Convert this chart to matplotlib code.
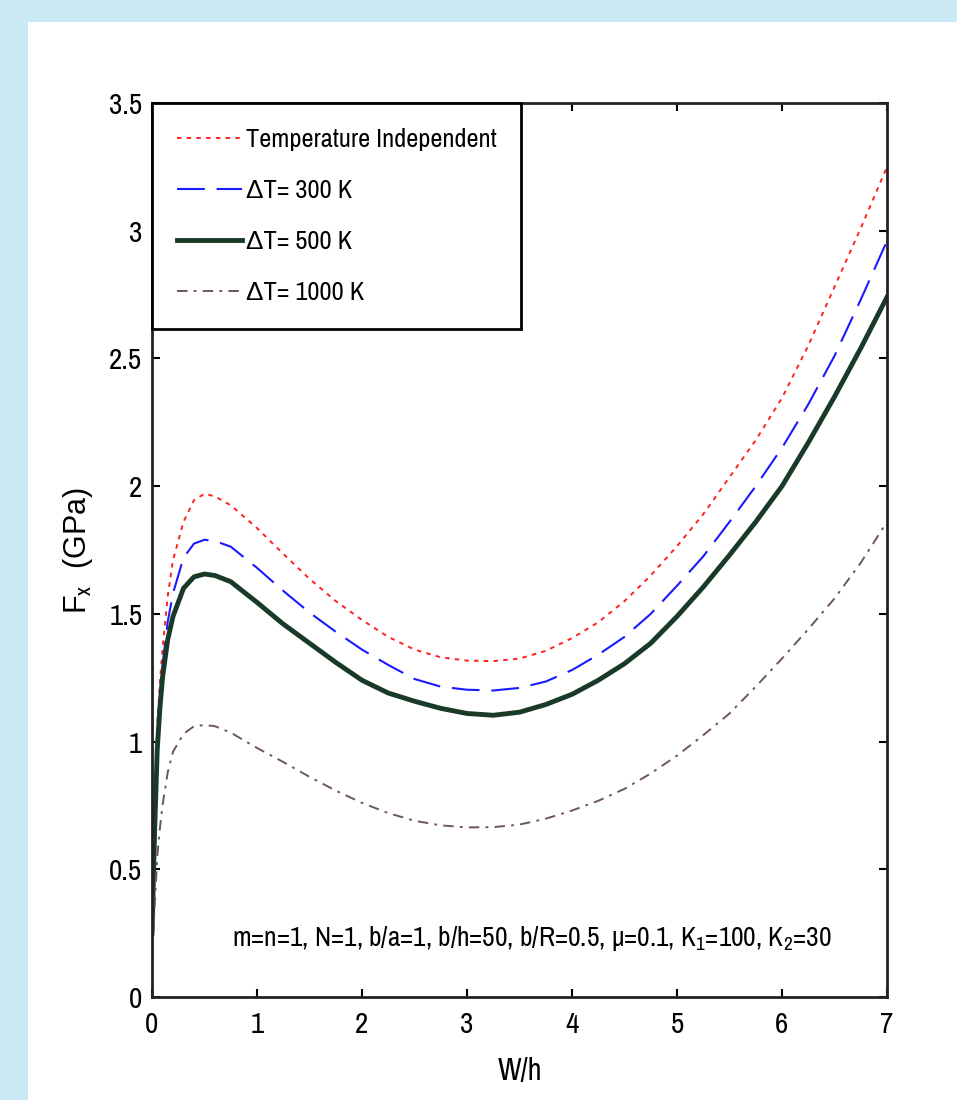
import matplotlib
matplotlib.use("Agg")
import matplotlib.pyplot as plt
from matplotlib.patches import Rectangle

# ---------------- data ----------------
w_over_h = [0, 0.025, 0.05, 0.075, 0.1, 0.15, 0.2, 0.3, 0.4, 0.5, 0.6, 0.75,
            1.0, 1.25, 1.5, 1.75, 2.0, 2.25, 2.5, 2.75, 3.0, 3.25, 3.5, 3.75,
            4.0, 4.25, 4.5, 4.75, 5.0, 5.25, 5.5, 5.75, 6.0, 6.25, 6.5, 6.75, 7.0]
temp_indep = [0.2, 0.7, 1.06, 1.23, 1.36, 1.57, 1.71, 1.86, 1.945, 1.97, 1.96, 1.925,
              1.836, 1.735, 1.637, 1.55, 1.476, 1.41, 1.36, 1.33, 1.317, 1.315, 1.325, 1.355,
              1.405, 1.467, 1.55, 1.65, 1.765, 1.89, 2.035, 2.18, 2.345, 2.55, 2.78, 3.01, 3.25]
dt_300 = [0.2, 0.68, 1.0, 1.17, 1.3, 1.47, 1.58, 1.72, 1.775, 1.79, 1.785, 1.763,
          1.68, 1.59, 1.505, 1.43, 1.36, 1.30, 1.245, 1.215, 1.203, 1.2, 1.21, 1.235,
          1.28, 1.34, 1.41, 1.5, 1.61, 1.725, 1.86, 2.0, 2.15, 2.32, 2.51, 2.73, 2.96]
dt_500 = [0.25, 0.65, 0.97, 1.13, 1.25, 1.40, 1.49, 1.60, 1.645, 1.656, 1.65, 1.626,
          1.545, 1.46, 1.385, 1.31, 1.24, 1.19, 1.158, 1.13, 1.11, 1.103, 1.115, 1.145,
          1.185, 1.24, 1.305, 1.385, 1.49, 1.605, 1.73, 1.86, 2.0, 2.17, 2.35, 2.54, 2.74]
dt_1000 = [0.15, 0.35, 0.55, 0.66, 0.75, 0.88, 0.96, 1.03, 1.06, 1.065, 1.06, 1.035,
           0.975, 0.92, 0.862, 0.808, 0.76, 0.72, 0.69, 0.672, 0.664, 0.665, 0.675, 0.698,
           0.73, 0.768, 0.815, 0.875, 0.945, 1.025, 1.11, 1.215, 1.325, 1.44, 1.56, 1.70, 1.86]
labels = ["Temperature Independent", "\u0394T= 300 K", "\u0394T= 500 K", "\u0394T= 1000 K"]
x_ticks = [0, 1, 2, 3, 4, 5, 6, 7]
y_ticks = [0, 0.5, 1, 1.5, 2, 2.5, 3, 3.5]
y_tick_labels = ["0", "0.5", "1", "1.5", "2", "2.5", "3", "3.5"]
note = "m=n=1, N=1, b/a=1, b/h=50, b/R=0.5, \u03bc=0.1, K$_1$=100, K$_2$=30"

# ---------------- fonts ----------------
NARROW = ["Archivo Narrow", "Liberation Sans", "DejaVu Sans"]
plt.rcParams["font.family"] = NARROW
plt.rcParams["mathtext.fontset"] = "custom"
plt.rcParams["mathtext.rm"] = "Archivo Narrow"
plt.rcParams["mathtext.it"] = "Archivo Narrow"
plt.rcParams["lines.scale_dashes"] = False

fig = plt.figure(figsize=(9.57, 11.0), dpi=100, facecolor="#cbe8f5")
bg = Rectangle((28 / 957, 0), 1, 1 - 22 / 1100, transform=fig.transFigure,
               facecolor="white", edgecolor="none", zorder=-10)
fig.add_artist(bg)
ax = fig.add_axes([152 / 957, 1 - 997 / 1100, (887 - 152) / 957, (997 - 103) / 1100])
ax.set_zorder(5)

ax.plot(w_over_h, temp_indep, color="#ff2020", lw=1.4, dashes=(3.2, 3.8), label=labels[0])
ax.plot(w_over_h, dt_300, color="#1a1aff", lw=1.5, dashes=(20, 8.5), label=labels[1])
ax.plot(w_over_h, dt_500, color="#1a3a28", lw=3.5, label=labels[2])
ax.plot(w_over_h, dt_1000, color="#6e5656", lw=1.4, dashes=(7.5, 4.5, 2, 4.5), label=labels[3])

ax.set_xlim(0, 7)
ax.set_ylim(0, 3.5)
ax.set_xticks(x_ticks)
ax.set_yticks(y_ticks)
ax.set_yticklabels(y_tick_labels)
ax.tick_params(direction="in", length=6, width=1.5, top=True, right=True,
               labelsize=21, pad=7, colors="black")
ax.tick_params(axis="x", pad=10)
for s in ax.spines.values():
    s.set_linewidth(2)
    s.set_color("#222222")

ax.set_xlabel("W/h", fontsize=22, labelpad=14)
ax.set_ylabel("F$_x$  (GPa)", fontsize=22, labelpad=10,
              family=["Liberation Sans", "DejaVu Sans"])

ax.text(0.76, 0.2, note, fontsize=19.7, va="baseline", ha="left")

leg = ax.legend(loc="upper left", fontsize=19, handlelength=2.45, handletextpad=0.15,
                borderaxespad=0, labelspacing=1.06, borderpad=0.95, fancybox=False,
                framealpha=1)
leg.get_frame().set_edgecolor("black")
leg.get_frame().set_linewidth(2)

fig.savefig("out.png", dpi=100, facecolor=fig.get_facecolor())
